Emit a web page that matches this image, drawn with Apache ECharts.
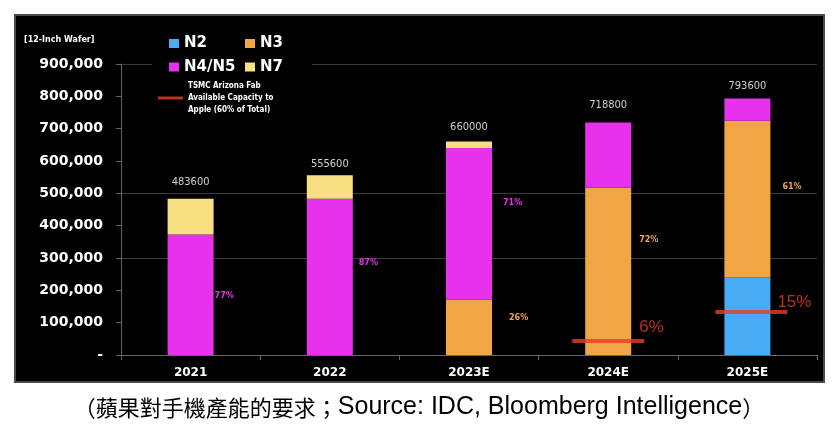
<!DOCTYPE html>
<html>
<head>
<meta charset="utf-8">
<script src="https://cdn.jsdelivr.net/npm/echarts@6/dist/echarts.min.js"></script>
<style>
html,body{margin:0;padding:0;background:#fff;}
#chart{width:838px;height:426px;}
</style>
</head>
<body>
<div id="chart"></div>
<script>
// ---- data ----
const categories = ['2021', '2022', '2023E', '2024E', '2025E'];
const n2 = [null, null, null, null, 240000];
const n3 = [null, null, 171600, 517500, 484100];
const n4n5 = [372400, 483400, 468600, 201300, 69500];
const n7 = [111200, 72200, 19800, null, null];
const totals = [483600, 555600, 660000, 718800, 793600];
const n3Pct = [null, null, '26%', '72%', '61%'];
const n4n5Pct = ['77%', '87%', '71%', null, null];
const arizona = [null, null, null, 43000, 133000];
const arizonaPct = [null, null, null, '6%', '15%'];
const yTickLabels = ['-', '100,000', '200,000', '300,000', '400,000', '500,000', '600,000', '700,000', '800,000', '900,000'];
const gridValues = [300000, 500000, 900000];
const arizonaName = 'TSMC Arizona Fab Available Capacity to Apple (60% of Total)';
const captionZh = '（蘋果對手機產能的要求；';
const captionEn = 'Source: IDC, Bloomberg Intelligence';
const captionEnd = '）';

// ---- styles ----
const C = { n2: '#4aabf5', n3: '#f0a644', n4: '#e831ec', n7: '#f8e082', red: '#e63e28' };
const pctOffsets3 = [null, null, [17, -9], [8, -31], [12, -12]];
const pctOffsets4 = [[1, 1], [6, -14], [11, -21], null, null];
const totalOffsets = [[0, -6], [0, -1], [0, -4], [0, -7], [0, -2]];
const redLabelOffsets = [null, null, null, [-5, -14], [-10, -10]];
const redSymbolOffsets = [null, null, null, [0, 0], [4, 0]];

function pctData(values, pcts, offsets, color) {
  return values.map((v, i) => {
    if (v == null) return null;
    const item = { value: v };
    if (pcts[i]) {
      item.label = {
        show: true, position: 'right', distance: 0, offset: offsets[i],
        formatter: pcts[i], color: color, fontSize: 8, fontWeight: 'bold',
        fontFamily: 'DejaVu Sans'
      };
    }
    return item;
  });
}

const chart = echarts.init(document.getElementById('chart'), null, { renderer: 'canvas' });
const barBase = { type: 'bar', stack: 'cap', barWidth: 46, z: 3, itemStyle: { borderWidth: 0 } };
const legendText = { color: '#fff', fontSize: 15, fontWeight: 'bold', fontFamily: 'DejaVu Sans', lineHeight: 18 };

chart.setOption({
  backgroundColor: '#fff',
  animation: false,
  title: {
    text: '{zh|' + captionZh + '}{en|' + captionEn + '}{zh|' + captionEnd + '}',
    left: 'center', top: 390,
    textStyle: {
      fontWeight: 'normal',
      rich: {
        zh: { color: '#000', fontSize: 22, fontWeight: 'normal', fontFamily: '"Noto Sans CJK TC", sans-serif' },
        en: { color: '#000', fontSize: 25, fontWeight: 'normal', fontFamily: 'Liberation Sans, sans-serif' }
      }
    }
  },
  graphic: [
    { type: 'rect', z: -10, shape: { x: 15, y: 15, width: 809, height: 367 }, style: { fill: '#000', stroke: '#4a4a4a', lineWidth: 2 } },
    { type: 'rect', z: 1, shape: { x: 152, y: 30, width: 160, height: 90 }, style: { fill: '#000' } },
    { type: 'text', z: 5, x: 24, y: 36, style: { text: '[12-Inch Wafer]', fill: '#fff', fontSize: 8, fontWeight: 'bold', fontFamily: 'DejaVu Sans' } }
  ],
  legend: [
    { data: ['N2'], left: 169, top: 34.5, padding: 0, icon: 'rect', itemWidth: 10, itemHeight: 9, textStyle: legendText, z: 6 },
    { data: ['N3'], left: 245, top: 34.5, padding: 0, icon: 'rect', itemWidth: 10, itemHeight: 9, textStyle: legendText, z: 6 },
    { data: ['N4/N5'], left: 169, top: 58, padding: 0, icon: 'rect', itemWidth: 10, itemHeight: 9, textStyle: legendText, z: 6 },
    { data: ['N7'], left: 245, top: 58, padding: 0, icon: 'rect', itemWidth: 10, itemHeight: 9, textStyle: legendText, z: 6 },
    { data: [arizonaName], left: 158, top: 80, padding: 0, icon: 'rect', itemWidth: 25, itemHeight: 3, z: 6,
      formatter: () => 'TSMC Arizona Fab\nAvailable Capacity to\nApple (60% of Total)',
      textStyle: { color: '#fff', fontSize: 8, lineHeight: 12, fontWeight: 'bold', fontFamily: 'DejaVu Sans Condensed, DejaVu Sans' } }
  ],
  grid: { left: 121, right: 21, top: 64, bottom: 71, containLabel: false },
  xAxis: {
    type: 'category', data: categories,
    axisLine: { show: true, lineStyle: { color: '#666', width: 1 } },
    axisTick: { show: true, length: 5, lineStyle: { color: '#666' } },
    axisLabel: { color: '#fff', fontSize: 12, fontWeight: 'bold', fontFamily: 'DejaVu Sans', margin: 12 },
    splitLine: { show: false }
  },
  yAxis: {
    type: 'value', min: 0, max: 900000, interval: 100000,
    axisLine: { show: true, lineStyle: { color: '#666', width: 1 } },
    axisTick: { show: true, length: 5, lineStyle: { color: '#666' } },
    axisLabel: { color: '#fff', fontSize: 14, fontWeight: 'bold', fontFamily: 'DejaVu Sans', margin: 18,
      formatter: v => yTickLabels[Math.round(v / 100000)] },
    splitLine: { show: false }
  },
  series: [
    {
      name: 'gridlines', type: 'line', data: [], z: 0, silent: true,
      markLine: {
        silent: true, symbol: 'none', label: { show: false }, z: 0,
        lineStyle: { color: '#3a3a3a', width: 1, type: 'solid' },
        data: gridValues.map(v => ({ yAxis: v }))
      }
    },
    Object.assign({}, barBase, { name: 'N2', data: n2, itemStyle: { color: C.n2 } }),
    Object.assign({}, barBase, { name: 'N3', data: pctData(n3, n3Pct, pctOffsets3, C.n3), itemStyle: { color: C.n3 } }),
    Object.assign({}, barBase, { name: 'N4/N5', data: pctData(n4n5, n4n5Pct, pctOffsets4, C.n4), itemStyle: { color: C.n4 } }),
    Object.assign({}, barBase, { name: 'N7', data: n7, itemStyle: { color: C.n7 } }),
    {
      name: 'total', type: 'scatter', symbolSize: 0, silent: true, z: 4,
      data: totals.map((v, i) => ({ value: v, label: { offset: totalOffsets[i] } })),
      label: { show: true, position: 'top', distance: 5, color: '#fff', fontSize: 11, fontFamily: 'DejaVu Sans Condensed, DejaVu Sans' }
    },
    {
      name: arizonaName, type: 'scatter', symbol: 'rect', symbolSize: [72, 4], z: 10,
      itemStyle: { color: C.red },
      data: arizona.map((v, i) => v == null ? null : ({
        value: v, symbolOffset: redSymbolOffsets[i],
        label: { show: true, position: 'right', distance: 0, offset: redLabelOffsets[i], formatter: arizonaPct[i],
          color: C.red, fontSize: 17, fontFamily: 'Liberation Sans' }
      }))
    }
  ]
});
</script>
</body>
</html>
